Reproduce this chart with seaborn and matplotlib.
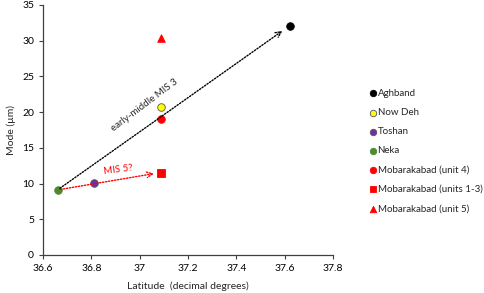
import matplotlib.pyplot as plt
import matplotlib as mpl
import pandas as pd
import numpy as np
import seaborn as sns

### Dados
sitios = ["Aghband", "Now Deh", "Toshan", "Neka", "Mobarakabad (unit 4)",
          "Mobarakabad (units 1-3)", "Mobarakabad (unit 5)"]
latitude = [37.62, 37.09, 36.81, 36.66, 37.09, 37.09, 37.09]
moda = [32.1, 20.7, 10.1, 9.1, 19.0, 11.5, 30.4]
cores = ["#000000", "#FFFF00", "#7030A0", "#4E8A2E", "#FF0000", "#FF0000", "#FF0000"]
marcadores = ["o", "o", "o", "o", "o", "s", "^"]

dados = pd.DataFrame({"Sitio": sitios, "Latitude": latitude, "Moda": moda})

sns.set_style("ticks")
plt.rcParams["font.family"] = ["Lato", "DejaVu Sans"]

fig = plt.figure(figsize = (4.84, 2.93), dpi = 100)
ax = fig.add_axes([0.089, 0.130, 0.599, 0.853])

for i, s in enumerate(sitios):
	borda = "#555555" if s in ("Now Deh", "Toshan") else cores[i]
	sns.scatterplot(data = dados[dados["Sitio"] == s], x = "Latitude", y = "Moda",
	                color = cores[i], marker = marcadores[i], s = 30,
	                edgecolor = borda, linewidth = 0.6, label = s, ax = ax, zorder = 3)

### Setas
ax.annotate("", xy = (37.60, 31.6), xytext = (36.66, 9.1),
            arrowprops = dict(arrowstyle = "->", linestyle = (0, (1, 1.2)), color = "black", lw = 1.0))
ax.annotate("", xy = (37.07, 11.45), xytext = (36.66, 9.1),
            arrowprops = dict(arrowstyle = "->", linestyle = (0, (1, 1.2)), color = "red", lw = 1.0))
ax.text(37.02, 21.0, "early-middle MIS 3", rotation = 37, ha = "center", va = "center", fontsize = 7)
ax.text(36.91, 11.9, "MIS 5?", rotation = 7, ha = "center", va = "center", fontsize = 7, color = "red")

ax.set_xlim(36.6, 37.8)
ax.set_ylim(0, 35)
ax.set_xticks([36.6, 36.8, 37.0, 37.2, 37.4, 37.6, 37.8])
ax.set_xticklabels(["36.6", "36.8", "37", "37.2", "37.4", "37.6", "37.8"])
ax.set_yticks(range(0, 36, 5))
ax.tick_params(labelsize = 7.5, length = 3, width = 0.8, colors = "#404040", labelcolor = "black")
for lado in ["left", "bottom"]:
	ax.spines[lado].set_color("#404040")
	ax.spines[lado].set_linewidth(0.9)
sns.despine(ax = ax)
ax.set_xlabel("Latitude  (decimal degrees)", fontsize = 7.5, labelpad = 6)
ax.set_ylabel("Mode (µm)", fontsize = 7.5, labelpad = 4)

ax.legend(loc = "upper left", bbox_to_anchor = (0.755, 0.71), bbox_transform = fig.transFigure,
          frameon = False, fontsize = 7, labelspacing = 1.05, handletextpad = 0.05,
          handlelength = 0.8, borderaxespad = 0, markerscale = 0.85)

plt.savefig("out.png", dpi = 100)
